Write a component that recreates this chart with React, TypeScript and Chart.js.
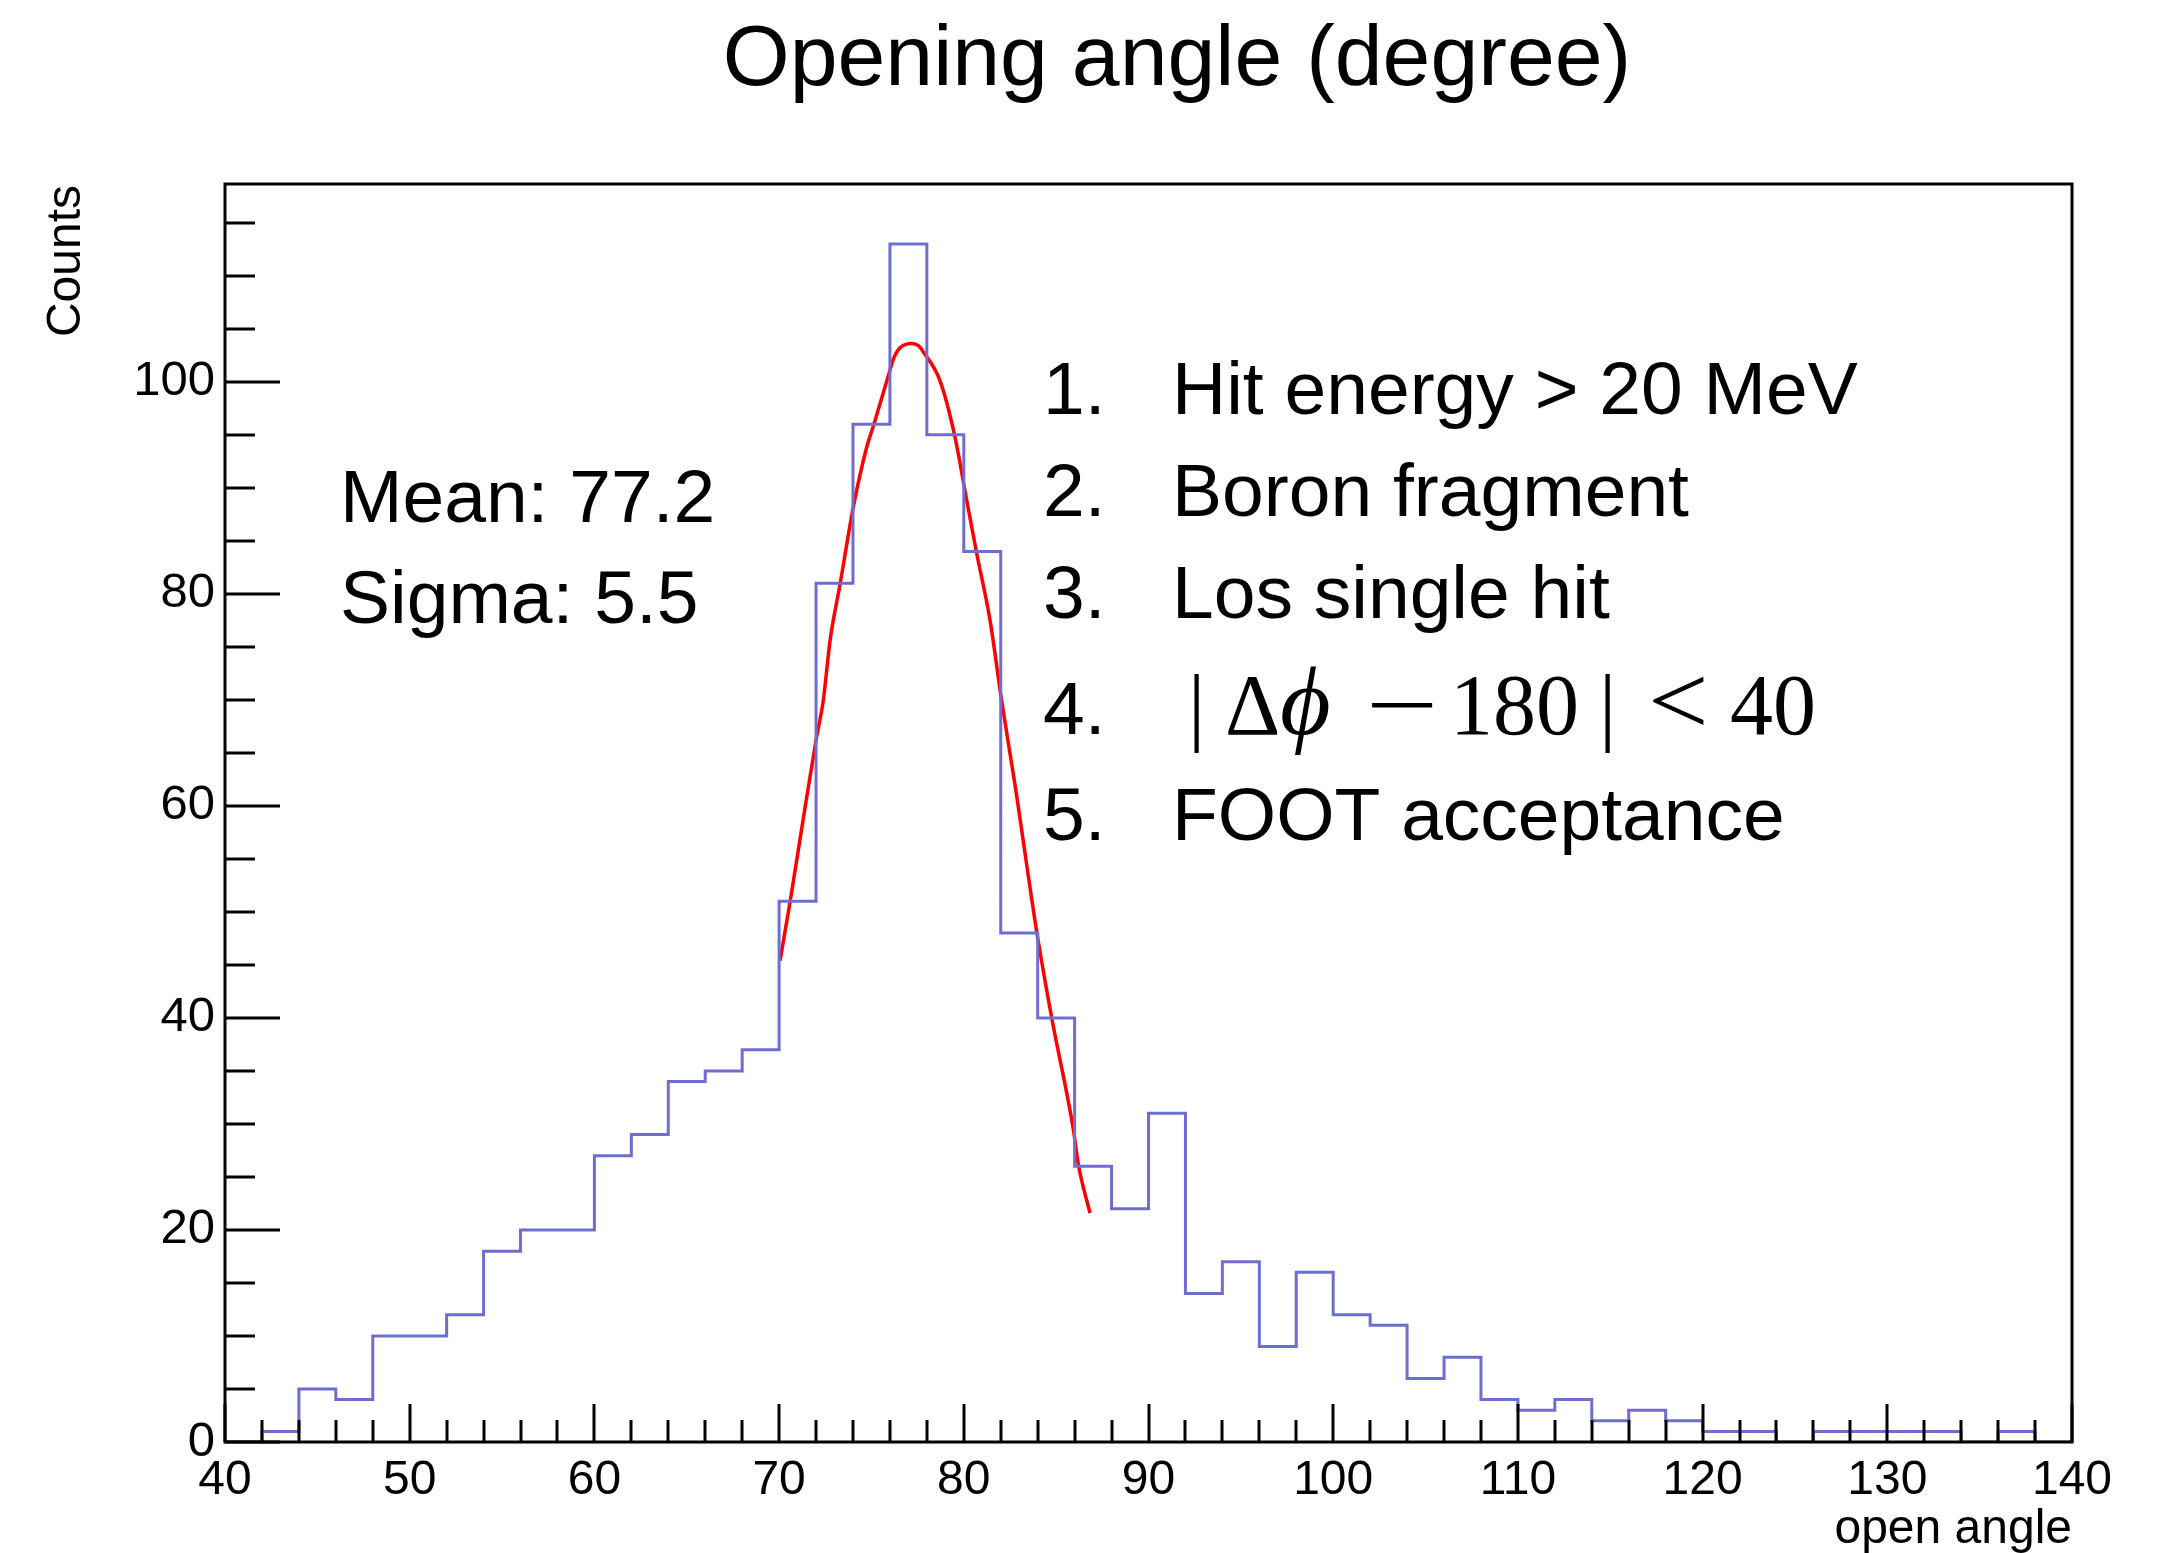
import React, { useEffect, useRef } from 'react';
import { Chart, registerables } from 'chart.js';

Chart.register(...registerables);

// ---- data ----
const binEdges = [
  40, 42, 44, 46, 48, 50, 52, 54, 56, 58, 60, 62, 64, 66, 68, 70, 72, 74, 76, 78,
  80, 82, 84, 86, 88, 90, 92, 94, 96, 98, 100, 102, 104, 106, 108, 110, 112, 114, 116, 118,
  120, 122, 124, 126, 128, 130, 132, 134, 136, 138, 140,
];
const counts = [
  0, 1, 5, 4, 10, 10, 12, 18, 20, 20, 27, 29, 34, 35, 37, 51, 81, 96, 113, 95,
  84, 48, 40, 26, 22, 31, 14, 17, 9, 16, 12, 11, 6, 8, 4, 3, 4, 2, 3, 2,
  1, 1, 0, 1, 1, 1, 1, 0, 1, 0,
];
const fitX = [
  70.05, 70.59, 71.31, 72.04, 72.39, 72.76, 73.3, 74.02, 74.74, 75.1, 75.97, 76.18, 76.55,
  77.18, 77.54, 77.81, 78.71, 79.52, 80.16, 80.7, 81.42, 82.05, 82.77, 83.95, 84.76, 85.93,
  86.2, 86.83,
];
const fitY = [
  45.4, 50.9, 58.8, 66.6, 69.9, 75.6, 80.9, 88.2, 93.8, 95.8, 100.9, 102.1, 103.2,
  103.6, 103.4, 102.8, 100.1, 94.8, 88.8, 83.8, 77.5, 69.9, 62.0, 48.1, 40.0, 29.5,
  26.2, 21.6,
];
const xTickLabels = ['40', '50', '60', '70', '80', '90', '100', '110', '120', '130', '140'];
const yTickLabels = ['0', '20', '40', '60', '80', '100'];
const cuts = ['Hit energy > 20 MeV', 'Boron fragment', 'Los single hit', '', 'FOOT acceptance'];
const cutNumbers = ['1.', '2.', '3.', '4.', '5.'];
const statsLines = ['Mean: 77.2', 'Sigma: 5.5'];
const chartTitle = 'Opening angle (degree)';
const xTitle = 'open angle';
const yTitle = 'Counts';

const W = 2163;
const H = 1553;
const SANS = '"Liberation Sans", Arial, Helvetica, sans-serif';
const SERIF = '"Liberation Serif", "DejaVu Serif", "Times New Roman", serif';

function drawScaled(ctx: any, text: string, x: number, y: number, sx: number, sy: number) {
  ctx.save();
  ctx.translate(x, y);
  ctx.scale(sx, sy);
  ctx.fillText(text, 0, 0);
  ctx.restore();
}

const rootPlugin = {
  id: 'rootStyle',
  afterDatasetsDraw(chart: any) {
    const { ctx, chartArea: a, scales } = chart;
    const xs = scales.x;
    const ys = scales.y;
    ctx.save();
    ctx.strokeStyle = '#000';
    ctx.lineWidth = 3;
    ctx.lineCap = 'butt';
    // y ticks (inside)
    for (let v = 0; v <= 115; v += 5) {
      const y = Math.round(ys.getPixelForValue(v));
      const len = v % 20 === 0 ? 55 : 30;
      ctx.beginPath();
      ctx.moveTo(a.left, y);
      ctx.lineTo(a.left + len, y);
      ctx.stroke();
    }
    // x ticks (inside)
    for (let v = 40; v <= 140; v += 2) {
      const x = Math.round(xs.getPixelForValue(v));
      const len = v % 10 === 0 ? 38 : 22;
      ctx.beginPath();
      ctx.moveTo(x, a.bottom);
      ctx.lineTo(x, a.bottom - len);
      ctx.stroke();
    }
    // frame
    ctx.strokeRect(a.left, a.top, a.right - a.left, a.bottom - a.top);
    ctx.restore();
  },
  afterDraw(chart: any) {
    const { ctx, chartArea: a } = chart;
    ctx.save();
    ctx.fillStyle = '#000';
    ctx.textBaseline = 'alphabetic';

    // title
    ctx.font = `86px ${SANS}`;
    ctx.textAlign = 'center';
    ctx.fillText(chartTitle, 1177, 85);

    // x title
    ctx.font = `48px ${SANS}`;
    ctx.textAlign = 'right';
    ctx.fillText(xTitle, a.right, 1543);

    // y title
    ctx.save();
    ctx.translate(80, a.top + 1);
    ctx.rotate(-Math.PI / 2);
    ctx.textAlign = 'right';
    ctx.fillText(yTitle, 0, 0);
    ctx.restore();

    // stats
    ctx.font = `75px ${SANS}`;
    ctx.textAlign = 'left';
    ctx.fillText(statsLines[0], 340, 522);
    ctx.fillText(statsLines[1], 340, 623);

    // cut list
    const baselines = [414, 516, 618, 734, 840];
    cutNumbers.forEach((n, i) => {
      ctx.font = `75px ${SANS}`;
      ctx.fillText(n, 1043, baselines[i]);
      if (cuts[i]) ctx.fillText(cuts[i], 1172, baselines[i]);
    });

    // item 4: math expression
    const b4 = baselines[3];
    ctx.font = `86px ${SERIF}`;
    ctx.fillText('|', 1188, b4);
    ctx.fillText('\u0394', 1225, b4);
    ctx.font = `italic 98px ${SERIF}`;
    ctx.fillText('\u03D5', 1280, b4);
    ctx.font = `86px ${SERIF}`;
    drawScaled(ctx, '\u2212', 1366, b4, 1.5, 1);
    ctx.fillText('180', 1450, b4);
    ctx.fillText('|', 1599, b4);
    drawScaled(ctx, '<', 1648, b4, 1.25, 1.15);
    ctx.fillText('40', 1730, b4);

    ctx.restore();
  },
};

export default function App() {
  const ref = useRef<HTMLCanvasElement>(null);

  useEffect(() => {
    document.body.style.margin = '0';
    document.body.style.overflow = 'hidden';
    document.body.style.background = '#fff';
    const canvas = ref.current;
    if (!canvas) return;

    const histPoints = binEdges.map((x, i) => ({ x, y: i < counts.length ? counts[i] : 0 }));
    const fitPoints = fitX.map((x, i) => ({ x, y: fitY[i] }));

    const chart = new Chart(canvas, {
      type: 'line',
      data: {
        datasets: [
          {
            label: 'histogram',
            data: histPoints,
            stepped: 'before',
            borderColor: '#6e6ed2',
            borderWidth: 3,
            pointRadius: 0,
            fill: false,
            tension: 0,
          },
          {
            label: 'gaus fit',
            data: fitPoints,
            borderColor: '#ff0000',
            borderWidth: 3.5,
            pointRadius: 0,
            fill: false,
            cubicInterpolationMode: 'monotone',
          },
        ],
      },
      options: {
        animation: false,
        responsive: false,
        devicePixelRatio: 1,
        parsing: false,
        layout: { padding: { left: 0, right: W - 2072, top: 184, bottom: 0 } },
        plugins: {
          legend: { display: false },
          tooltip: { enabled: false },
          title: { display: false },
        },
        scales: {
          x: {
            type: 'linear',
            min: 40,
            max: 140,
            afterFit: (s: any) => {
              s.height = H - 1442;
            },
            grid: { display: false, drawTicks: false },
            border: { display: false },
            ticks: {
              stepSize: 10,
              autoSkip: false,
              maxRotation: 0,
              minRotation: 0,
              includeBounds: false,
              padding: 10,
              color: '#000',
              font: { family: SANS, size: 48 },
              callback: (v: any) => {
                const s = String(v);
                return xTickLabels.includes(s) ? s : '';
              },
            },
          },
          y: {
            type: 'linear',
            min: 0,
            max: 118.65,
            afterFit: (s: any) => {
              s.width = 225;
            },
            grid: { display: false, drawTicks: false },
            border: { display: false },
            ticks: {
              stepSize: 20,
              includeBounds: false,
              padding: 10,
              color: '#000',
              font: { family: SANS, size: 49 },
              callback: (v: any) => {
                const s = String(v);
                return yTickLabels.includes(s) ? s : '';
              },
            },
          },
        },
      },
      plugins: [rootPlugin],
    } as any);

    return () => chart.destroy();
  }, []);

  return (
    <canvas
      ref={ref}
      width={W}
      height={H}
      style={{ display: 'block', width: W, height: H }}
    />
  );
}
